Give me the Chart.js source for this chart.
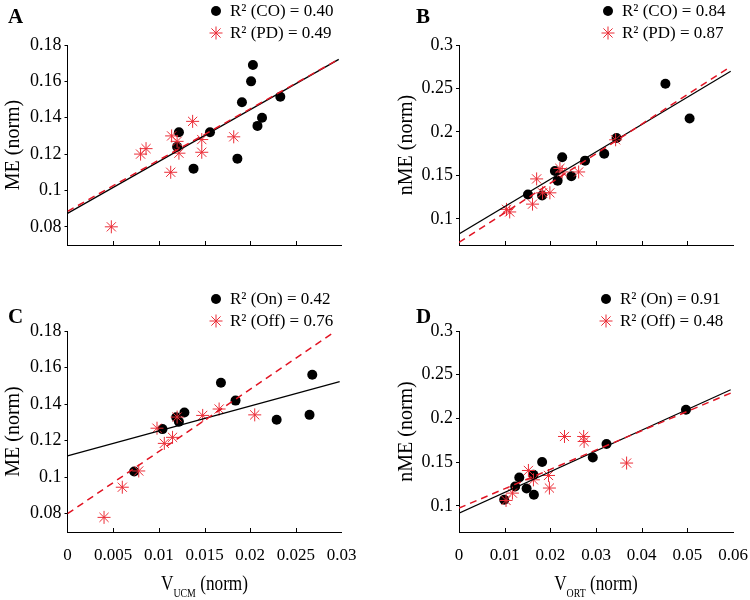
<!DOCTYPE html>
<html>
<head>
<meta charset="utf-8">
<script src="https://cdn.jsdelivr.net/npm/chart.js@4/dist/chart.umd.min.js"></script>
<style>
  body { margin: 0; background: #fff; }
  #wrap { position: relative; width: 750px; height: 600px; }
  #wrap canvas { position: absolute; left: 0; top: 0; }
</style>
</head>
<body>
<div id="wrap">
  <canvas id="cA" width="750" height="600"></canvas>
  <canvas id="cB" width="750" height="600"></canvas>
  <canvas id="cC" width="750" height="600"></canvas>
  <canvas id="cD" width="750" height="600"></canvas>
</div>
<script>
// ---- data ----
// A: ME vs V_UCM
var aCOx = [0.0122, 0.0120, 0.0138, 0.0156, 0.0186, 0.0191, 0.0201, 0.0203, 0.0208, 0.0213, 0.0233];
var aCOy = [0.132, 0.124, 0.112, 0.132, 0.1175, 0.1485, 0.160, 0.169, 0.1355, 0.140, 0.1515];
var aPDx = [0.0048, 0.0080, 0.0086, 0.0113, 0.0114, 0.0120, 0.0122, 0.0137, 0.0147, 0.0147, 0.0182];
var aPDy = [0.080, 0.120, 0.123, 0.110, 0.130, 0.127, 0.1205, 0.138, 0.128, 0.121, 0.1295];
var aFitCO = [{x: 0, y: 0.0874}, {x: 0.0297, y: 0.1721}];
var aFitPD = [{x: 0, y: 0.0885}, {x: 0.0297, y: 0.1722}];
var aLegend = ['R\u00b2 (CO) = 0.40', 'R\u00b2 (PD) = 0.49'];

// B: nME vs V_ORT
var bCOx = [0.0151, 0.0182, 0.0210, 0.0216, 0.0226, 0.0246, 0.0276, 0.0318, 0.0345, 0.0452, 0.0505];
var bCOy = [0.128, 0.127, 0.155, 0.144, 0.171, 0.149, 0.167, 0.175, 0.193, 0.2555, 0.2155];
var bPDx = [0.0104, 0.0111, 0.0161, 0.0170, 0.0183, 0.0199, 0.0221, 0.0226, 0.0262, 0.0343];
var bPDy = [0.111, 0.108, 0.117, 0.146, 0.130, 0.130, 0.158, 0.154, 0.154, 0.191];
var bFitCO = [{x: 0, y: 0.0827}, {x: 0.0595, y: 0.2697}];
var bFitPD = [{x: 0, y: 0.073}, {x: 0.059, y: 0.2735}];
var bLegend = ['R\u00b2 (CO) = 0.84', 'R\u00b2 (PD) = 0.87'];

// C: ME vs V_UCM, On / Off
var cOnx = [0.0073, 0.0104, 0.0119, 0.0122, 0.0128, 0.0168, 0.0184, 0.0229, 0.0265, 0.0268];
var cOny = [0.1031, 0.1263, 0.1328, 0.1303, 0.1354, 0.1517, 0.1419, 0.1314, 0.1341, 0.1561];
var cOffx = [0.0040, 0.0060, 0.0078, 0.0098, 0.0106, 0.0115, 0.0120, 0.0148, 0.0166, 0.0205];
var cOffy = [0.078, 0.0945, 0.1034, 0.1268, 0.1185, 0.1218, 0.1329, 0.1338, 0.1373, 0.1341];
var cFitOn = [{x: 0, y: 0.1117}, {x: 0.0298, y: 0.1523}];
var cFitOff = [{x: 0, y: 0.0800}, {x: 0.0290, y: 0.1787}];
var cLegend = ['R\u00b2 (On) = 0.42', 'R\u00b2 (Off) = 0.76'];

// D: nME vs V_ORT, On / Off
var dOnx = [0.0099, 0.0123, 0.0132, 0.0148, 0.0163, 0.0164, 0.0182, 0.0293, 0.0323, 0.0497];
var dOny = [0.1069, 0.1221, 0.1324, 0.1198, 0.1355, 0.1126, 0.150, 0.1553, 0.1706, 0.2098];
var dOffx = [0.0103, 0.0117, 0.0152, 0.0163, 0.0196, 0.0198, 0.0231, 0.0273, 0.0274, 0.0367];
var dOffy = [0.1061, 0.1145, 0.1404, 0.1297, 0.1347, 0.1203, 0.1793, 0.1793, 0.1736, 0.1489];
var dFitOn = [{x: 0, y: 0.0916}, {x: 0.0595, y: 0.2327}];
var dFitOff = [{x: 0, y: 0.0974}, {x: 0.0595, y: 0.229}];
var dLegend = ['R\u00b2 (On) = 0.91', 'R\u00b2 (Off) = 0.48'];

// axes
var ucmTicks = [0, 0.005, 0.01, 0.015, 0.02, 0.025, 0.03];
var ortTicks = [0, 0.01, 0.02, 0.03, 0.04, 0.05, 0.06];
var meTicks = [0.08, 0.1, 0.12, 0.14, 0.16, 0.18];
var nmeTicks = [0.1, 0.15, 0.2, 0.25, 0.3];

var SERIF = '"Liberation Serif", "Times New Roman", serif';
var RED = 'rgb(235,45,55)';
var DASH_RED = 'rgb(225,20,35)';

function pairs(xs, ys) {
    return xs.map(function (x, i) { return {x: x, y: ys[i]}; });
}

function drawStar(ctx, x, y, r) {
    ctx.beginPath();
    ctx.moveTo(x - r, y); ctx.lineTo(x + r, y);
    ctx.moveTo(x, y - r); ctx.lineTo(x, y + r);
    var d = r * Math.SQRT1_2;
    ctx.moveTo(x - d, y - d); ctx.lineTo(x + d, y + d);
    ctx.moveTo(x - d, y + d); ctx.lineTo(x + d, y - d);
    ctx.stroke();
}

function buildPanel(p) {
    var decor = {
        id: 'decor',
        afterDraw: function (chart) {
            var ctx = chart.ctx;
            var xs = chart.scales.x;
            var area = chart.chartArea;
            ctx.save();
            // inward x ticks
            ctx.strokeStyle = '#000';
            ctx.lineWidth = 1;
            p.xTicks.slice(1, -1).forEach(function (v) {
                var px = Math.round(xs.getPixelForValue(v)) + 0.5;
                ctx.beginPath();
                ctx.moveTo(px, area.bottom);
                ctx.lineTo(px, area.bottom - 4);
                ctx.stroke();
            });
            // legend
            ctx.font = '17px ' + SERIF;
            ctx.textBaseline = 'middle';
            ctx.textAlign = 'left';
            ctx.fillStyle = '#000';
            ctx.beginPath();
            ctx.arc(p.legX, p.legY, 5, 0, Math.PI * 2);
            ctx.fill();
            ctx.fillText(p.legend[0], p.legX + 14, p.legY + 1);
            ctx.strokeStyle = RED;
            drawStar(ctx, p.legX, p.legY + 22, 6.5);
            ctx.fillText(p.legend[1], p.legX + 14, p.legY + 23);
            // panel letter
            ctx.font = 'bold 21px ' + SERIF;
            ctx.fillText(p.letter, p.letterX, p.letterY);
            // x title with subscript, a bit narrow like the source figure
            if (p.xSub) {
                var big = '21px ' + SERIF, small = '12px ' + SERIF, k = 0.82;
                ctx.textBaseline = 'alphabetic';
                ctx.font = big;
                var w1 = ctx.measureText('V').width;
                var w3 = ctx.measureText(' (norm)').width;
                ctx.font = small;
                var w2 = ctx.measureText(p.xSub).width;
                var cx = (area.left + area.right) / 2;
                ctx.translate(cx - k * (w1 + w2 + w3) / 2, 0);
                ctx.scale(k, 1);
                ctx.font = big;
                ctx.fillText('V', 0, 590);
                ctx.font = small;
                ctx.fillText(p.xSub, w1, 597);
                ctx.font = big;
                ctx.fillText(' (norm)', w1 + w2, 590);
            }
            ctx.restore();
        }
    };

    return new Chart(document.getElementById(p.id), {
        type: 'scatter',
        data: {
            datasets: [
                {data: pairs(p.s1x, p.s1y), pointStyle: 'circle', pointRadius: 5,
                    backgroundColor: '#000', borderColor: '#000', borderWidth: 0, order: 4},
                {data: pairs(p.s2x, p.s2y), pointStyle: 'star', pointRadius: 6.5,
                    borderColor: RED, backgroundColor: RED, borderWidth: 1, order: 3},
                {data: p.fit1, showLine: true, pointRadius: 0, borderColor: '#000',
                    borderWidth: 1.2, order: 2},
                {data: p.fit2, showLine: true, pointRadius: 0, borderColor: DASH_RED,
                    borderWidth: 1.5, borderDash: [7, 5], order: 1}
            ]
        },
        options: {
            responsive: false,
            animation: false,
            events: [],
            layout: {padding: p.pad},
            plugins: {legend: {display: false}, tooltip: {enabled: false}},
            scales: {
                x: {
                    type: 'linear', min: p.xTicks[0], max: p.xTicks[p.xTicks.length - 1],
                    afterBuildTicks: function (s) {
                        s.ticks = p.xTicks.map(function (v) { return {value: v}; });
                    },
                    afterFit: function (s) {
                        s.height = 40; s.paddingLeft = 0; s.paddingRight = 0;
                    },
                    grid: {display: false},
                    border: {display: true, color: '#000', width: 1},
                    ticks: {
                        display: p.xLabels, color: '#000', padding: 5,
                        autoSkip: false, maxRotation: 0, minRotation: 0,
                        font: {family: SERIF, size: 17},
                        callback: function (v) { return String(v); }
                    }
                },
                y: {
                    type: 'linear', min: p.yMin, max: p.yTicks[p.yTicks.length - 1],
                    afterBuildTicks: function (s) {
                        s.ticks = p.yTicks.map(function (v) { return {value: v}; });
                    },
                    afterFit: function (s) {
                        s.width = p.yWidth; s.paddingTop = 0; s.paddingBottom = 0;
                    },
                    grid: {display: true, drawOnChartArea: false, drawTicks: true,
                        tickLength: 3, color: '#000'},
                    border: {display: true, color: '#000', width: 1},
                    ticks: {
                        color: '#000', padding: 3,
                        font: {family: SERIF, size: 18},
                        callback: function (v) { return String(v); }
                    },
                    title: {display: true, text: p.yTitle, color: '#000', padding: 4,
                        font: {family: SERIF, size: 20, lineHeight: 1}}
                }
            }
        },
        plugins: [decor]
    });
}

buildPanel({
    id: 'cA', letter: 'A', letterX: 8, letterY: 18, legX: 216, legY: 11,
    s1x: aCOx, s1y: aCOy, s2x: aPDx, s2y: aPDy, fit1: aFitCO, fit2: aFitPD, legend: aLegend,
    xTicks: ucmTicks, yTicks: meTicks, yMin: 0.07, xLabels: false, xSub: null,
    yTitle: 'ME (norm)', yWidth: 67.5, pad: {left: 0, top: 45, right: 408.5, bottom: 315}
});
buildPanel({
    id: 'cB', letter: 'B', letterX: 416, letterY: 18, legX: 608, legY: 11,
    s1x: bCOx, s1y: bCOy, s2x: bPDx, s2y: bPDy, fit1: bFitCO, fit2: bFitPD, legend: bLegend,
    xTicks: ortTicks, yTicks: nmeTicks, yMin: 0.07, xLabels: false, xSub: null,
    yTitle: 'nME (norm)', yWidth: 66, pad: {left: 393, top: 45, right: 17, bottom: 315}
});
buildPanel({
    id: 'cC', letter: 'C', letterX: 8, letterY: 318, legX: 216, legY: 299,
    s1x: cOnx, s1y: cOny, s2x: cOffx, s2y: cOffy, fit1: cFitOn, fit2: cFitOff, legend: cLegend,
    xTicks: ucmTicks, yTicks: meTicks, yMin: 0.07, xLabels: true, xSub: 'UCM',
    yTitle: 'ME (norm)', yWidth: 67.5, pad: {left: 0, top: 331, right: 408.5, bottom: 28}
});
buildPanel({
    id: 'cD', letter: 'D', letterX: 416, letterY: 318, legX: 606, legY: 299,
    s1x: dOnx, s1y: dOny, s2x: dOffx, s2y: dOffy, fit1: dFitOn, fit2: dFitOff, legend: dLegend,
    xTicks: ortTicks, yTicks: nmeTicks, yMin: 0.07, xLabels: true, xSub: 'ORT',
    yTitle: 'nME (norm)', yWidth: 66, pad: {left: 393, top: 331, right: 17, bottom: 28}
});
</script>
</body>
</html>
